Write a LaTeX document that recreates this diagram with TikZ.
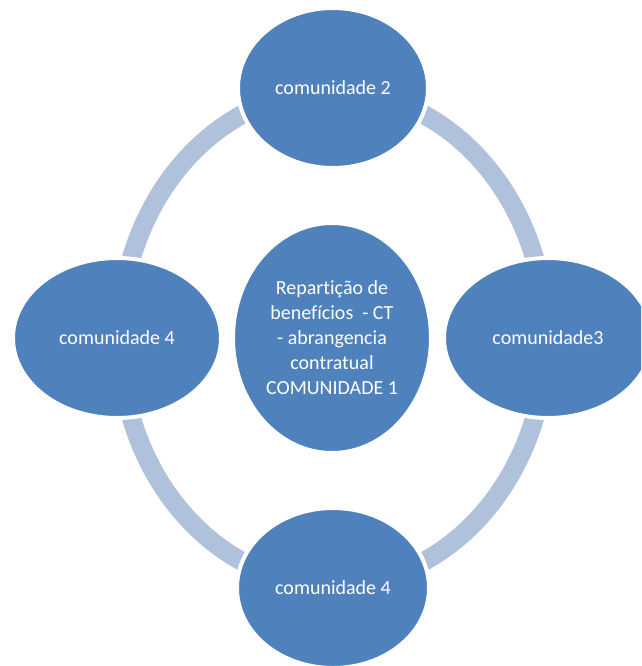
\documentclass[tikz,border=0pt]{standalone}
\usepackage{fontspec}
\setmainfont[Ligatures=NoCommon]{Carlito}
\usetikzlibrary{shapes.geometric}
\definecolor{cNode}{HTML}{4F81BD}
\definecolor{cRing}{HTML}{B0C1DC}
\tikzset{
  com/.style  ={ellipse,draw=white,line width=4pt,fill=cNode,text=white,
                align=center,inner sep=0pt,font=\fontsize{20}{25}\selectfont},
  sat/.style  ={com,minimum width=200pt,minimum height=160pt},
  ring/.style ={draw=cRing,line width=19pt},
}

\begin{document}
\begin{tikzpicture}[x=1pt, y=-1pt]
\useasboundingbox (0,0) rectangle (641,666);
\clip (0,0) rectangle (641,666);

% ===== ring behind the nodes ===============================================
\coordinate (mid) at (333,338);
\draw[ring] (mid) ellipse [x radius=213, y radius=247];

% ===== satellites ===========================================================
\node[sat,minimum width=190pt] (c2) at (333,88)  {comunidade 2};
\node[sat,minimum width=208pt] (c4a) at (117,338) {comunidade 4};
\node[sat,minimum width=208pt] (c3) at (548,338) {comunidade3};
\node[sat,minimum width=192pt] (c4b) at (333,588) {comunidade 4};

% ===== centre ===============================================================
\node[com,minimum width=198pt,minimum height=230pt] (c1) at (332,338)
  {Repartição de\\benefícios\ \ - CT\\- abrangencia\\contratual\\COMUNIDADE 1};
\end{tikzpicture}
\end{document}
